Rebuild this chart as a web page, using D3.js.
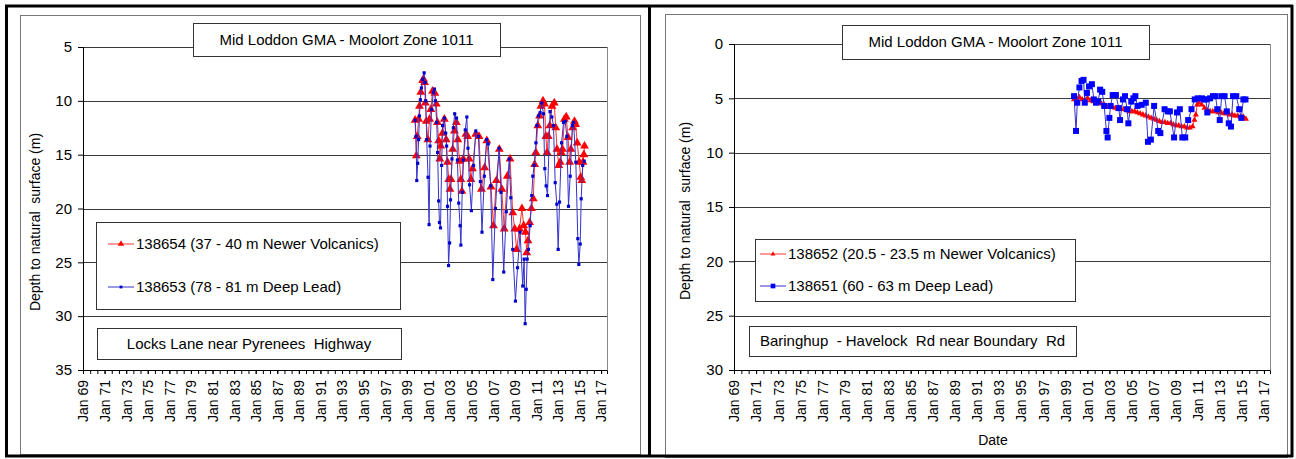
<!DOCTYPE html>
<html>
<head>
<meta charset="utf-8">
<script src="https://cdn.jsdelivr.net/npm/d3@7/dist/d3.min.js"></script>
<style>
    body { margin: 0; background: #fff; }
    svg { display: block; font-family: Arial, "Liberation Sans", sans-serif; }
    text { white-space: pre; }
</style>
</head>
<body>
<svg id="chart" width="1296" height="459"></svg>
<script>
var titleText = 'Mid Loddon GMA - Moolort Zone 1011',
    yLabel = 'Depth to natural  surface (m)',
    xLabelRight = 'Date',
    siteLeft = 'Locks Lane near Pyrenees  Highway',
    siteRight = 'Baringhup  - Havelock  Rd near Boundary  Rd',
    namesLeft = ['138654 (37 - 40 m Newer Volcanics)', '138653 (78 - 81 m Deep Lead)'],
    namesRight = ['138652 (20.5 - 23.5 m Newer Volcanics)', '138651 (60 - 63 m Deep Lead)'],
    xTickYears = [1969, 1971, 1973, 1975, 1977, 1979, 1981, 1983, 1985, 1987, 1989, 1991,
                  1993, 1995, 1997, 1999, 2001, 2003, 2005, 2007, 2009, 2011, 2013, 2015, 2017],
    yTicksLeft = [5, 10, 15, 20, 25, 30, 35],
    yTicksRight = [0, 5, 10, 15, 20, 25, 30];

// 138654 - shallow bore, left chart
var s138654 = [
    ['1999-10-10', 11.8], ['1999-11-20', 15.1], ['1999-12-20', 13.3], ['2000-02-05', 11.7],
    ['2000-03-05', 10.5], ['2000-04-20', 9.2], ['2000-06-20', 8.1], ['2000-07-20', 8.0],
    ['2000-08-25', 8.3], ['2000-09-20', 10.2], ['2000-10-20', 11.9], ['2000-12-15', 13.6],
    ['2001-02-10', 11.7], ['2001-03-25', 10.8], ['2001-05-20', 9.1], ['2001-08-10', 9.3],
    ['2001-09-25', 10.3], ['2001-11-01', 12.0], ['2001-12-15', 13.7], ['2002-01-20', 15.4],
    ['2002-02-25', 14.2], ['2002-04-25', 13.0], ['2002-06-25', 11.7], ['2002-08-25', 13.6],
    ['2002-10-10', 15.7], ['2002-11-20', 17.3], ['2003-01-01', 18.2], ['2003-02-05', 17.3],
    ['2003-04-05', 14.5], ['2003-06-01', 12.8], ['2003-08-05', 12.0], ['2003-09-25', 13.6],
    ['2003-11-20', 15.6], ['2004-01-05', 17.3], ['2004-02-10', 18.4], ['2004-03-25', 15.4],
    ['2004-06-25', 13.1], ['2004-08-20', 13.3], ['2004-10-10', 15.4], ['2004-12-10', 17.3],
    ['2005-02-01', 16.3], ['2005-05-25', 13.1], ['2005-09-10', 13.3], ['2005-12-01', 18.2],
    ['2006-03-20', 16.2], ['2006-06-01', 13.7], ['2006-10-20', 18.0], ['2007-01-10', 21.6],
    ['2007-04-20', 17.4], ['2007-07-30', 14.5], ['2007-10-20', 18.2], ['2008-01-10', 21.9],
    ['2008-04-25', 17.0], ['2008-07-25', 15.4], ['2008-10-25', 20.4], ['2009-01-01', 21.9],
    ['2009-03-05', 23.8], ['2009-06-10', 21.9], ['2009-09-01', 20.0], ['2009-11-01', 21.6],
    ['2010-01-01', 22.2], ['2010-02-10', 24.1], ['2010-03-25', 23.0], ['2010-05-20', 21.3],
    ['2010-07-20', 20.0], ['2010-09-20', 19.1], ['2010-11-05', 15.9], ['2010-12-15', 14.8],
    ['2011-02-20', 12.3], ['2011-04-20', 11.4], ['2011-06-05', 10.5], ['2011-08-15', 10.0],
    ['2011-10-05', 10.3], ['2011-11-20', 13.3], ['2011-12-30', 14.8], ['2012-02-10', 13.3],
    ['2012-04-01', 12.3], ['2012-06-15', 10.5], ['2012-08-30', 10.2], ['2012-10-20', 12.5],
    ['2012-12-01', 14.5], ['2013-02-01', 16.0], ['2013-03-20', 15.7], ['2013-04-25', 14.8],
    ['2013-06-05', 14.5], ['2013-08-10', 11.7], ['2013-10-10', 11.5], ['2013-12-10', 13.4],
    ['2014-02-01', 15.7], ['2014-03-15', 14.5], ['2014-05-15', 12.5], ['2014-07-15', 11.9],
    ['2014-08-25', 12.2], ['2014-10-15', 13.9], ['2014-12-25', 15.7], ['2015-02-10', 17.1],
    ['2015-03-20', 17.4], ['2015-04-30', 15.7], ['2015-05-30', 15.0], ['2015-06-20', 14.2]
];

// 138653 - deep bore, left chart
var s138653 = [
    ['1999-10-10', 11.8], ['1999-11-10', 13.3], ['1999-12-05', 17.4], ['2000-01-05', 15.8],
    ['2000-02-05', 13.6], ['2000-03-05', 11.4], ['2000-04-05', 9.9], ['2000-05-10', 8.8],
    ['2000-06-20', 8.0], ['2000-08-10', 7.4], ['2000-09-10', 8.3], ['2000-10-05', 10.0],
    ['2000-11-05', 13.6], ['2000-12-20', 17.1], ['2001-01-25', 21.5], ['2001-02-25', 14.2],
    ['2001-04-20', 10.8], ['2001-06-20', 9.2], ['2001-07-25', 8.9], ['2001-08-25', 10.0],
    ['2001-10-10', 12.0], ['2001-11-10', 14.8], ['2001-12-15', 19.3], ['2002-01-10', 21.3],
    ['2002-02-15', 21.8], ['2002-03-25', 16.0], ['2002-04-25', 12.3], ['2002-06-25', 11.6],
    ['2002-08-10', 13.0], ['2002-09-10', 14.2], ['2002-10-10', 19.8], ['2002-11-15', 25.3],
    ['2002-12-20', 23.2], ['2003-01-20', 19.2], ['2003-03-10', 15.4], ['2003-04-25', 12.5],
    ['2003-06-10', 11.2], ['2003-08-10', 11.6], ['2003-09-10', 15.5], ['2003-10-25', 19.5],
    ['2003-12-10', 21.6], ['2004-01-05', 23.4], ['2004-02-20', 18.5], ['2004-04-01', 15.5],
    ['2004-06-01', 12.7], ['2004-07-25', 11.5], ['2004-09-01', 14.4], ['2004-10-25', 17.8],
    ['2004-12-25', 20.2], ['2005-03-10', 16.0], ['2005-05-25', 12.8], ['2005-08-20', 13.3],
    ['2005-10-25', 17.5], ['2005-12-20', 22.2], ['2006-03-10', 17.0], ['2006-05-25', 13.6],
    ['2006-07-20', 14.0], ['2006-10-10', 17.9], ['2006-12-20', 26.6], ['2007-03-20', 20.0],
    ['2007-07-20', 14.4], ['2007-09-25', 18.5], ['2007-12-25', 25.9], ['2008-03-20', 20.3],
    ['2008-07-01', 15.4], ['2008-08-20', 19.0], ['2008-10-25', 23.8], ['2009-01-25', 28.6],
    ['2009-04-05', 25.5], ['2009-06-30', 22.2], ['2009-09-30', 27.2], ['2009-11-15', 24.7],
    ['2009-12-20', 30.7], ['2010-01-25', 27.5], ['2010-02-25', 24.7], ['2010-04-10', 23.8],
    ['2010-06-05', 21.6], ['2010-07-30', 18.8], ['2010-09-05', 17.0], ['2010-10-20', 16.0],
    ['2010-12-20', 13.9], ['2011-01-20', 12.3], ['2011-03-15', 11.4], ['2011-05-10', 11.1],
    ['2011-07-05', 10.2], ['2011-08-30', 11.2], ['2011-10-15', 16.3], ['2011-11-30', 17.9],
    ['2012-01-15', 18.8], ['2012-04-10', 11.0], ['2012-06-10', 11.5], ['2012-08-05', 12.3],
    ['2012-10-01', 17.6], ['2012-11-25', 19.6], ['2013-01-10', 23.8], ['2013-02-25', 19.4],
    ['2013-05-05', 13.9], ['2013-07-10', 12.0], ['2013-09-05', 11.9], ['2013-10-30', 13.3],
    ['2013-12-25', 19.8], ['2014-02-20', 17.0], ['2014-05-05', 12.3], ['2014-06-15', 12.0],
    ['2014-08-30', 15.7], ['2014-11-05', 22.8], ['2014-12-10', 25.2], ['2015-01-25', 23.3],
    ['2015-02-28', 19.1], ['2015-04-20', 16.0], ['2015-06-10', 15.6]
];

// 138652 - shallow bore, right chart
var s138652 = [
    ['1999-10-20', 5.1], ['2000-01-15', 5.0], ['2000-04-15', 4.9], ['2000-07-15', 5.1],
    ['2000-10-15', 5.2], ['2001-01-15', 5.0], ['2001-04-15', 5.2], ['2001-07-15', 5.3],
    ['2001-10-15', 5.4], ['2002-01-15', 5.4], ['2002-04-15', 5.5], ['2002-07-15', 5.6],
    ['2002-10-15', 5.8], ['2003-01-15', 5.8], ['2003-04-15', 5.8], ['2003-07-15', 5.9],
    ['2003-10-15', 6.0], ['2004-01-15', 6.0], ['2004-04-15', 6.0], ['2004-07-15', 6.1],
    ['2004-10-15', 6.2], ['2005-01-15', 6.2], ['2005-04-15', 6.2], ['2005-07-15', 6.3],
    ['2005-10-15', 6.4], ['2006-01-15', 6.5], ['2006-04-15', 6.6], ['2006-07-15', 6.7],
    ['2006-10-15', 6.8], ['2007-01-15', 6.9], ['2007-04-15', 7.0], ['2007-07-15', 7.1],
    ['2007-10-15', 7.2], ['2008-01-15', 7.2], ['2008-04-15', 7.3], ['2008-07-15', 7.3],
    ['2008-10-15', 7.4], ['2009-01-15', 7.5], ['2009-04-15', 7.5], ['2009-07-15', 7.6],
    ['2009-10-15', 7.6], ['2010-01-15', 7.7], ['2010-04-15', 7.7], ['2010-07-15', 7.6],
    ['2010-09-15', 7.0], ['2010-11-01', 6.5], ['2010-12-15', 5.6], ['2011-02-15', 5.4],
    ['2011-05-15', 5.6], ['2011-08-15', 5.9], ['2011-11-15', 6.1], ['2012-02-15', 6.2],
    ['2012-05-15', 6.2], ['2012-08-15', 6.2], ['2012-11-15', 6.3], ['2013-02-15', 6.3],
    ['2013-05-15', 6.4], ['2013-08-15', 6.4], ['2013-11-15', 6.5], ['2014-02-15', 6.5],
    ['2014-05-15', 6.6], ['2014-08-15', 6.6], ['2014-11-15', 6.7], ['2015-02-15', 6.7],
    ['2015-05-15', 6.9]
];

// 138651 - deep bore, right chart
var s138651 = [
    ['1999-10-20', 4.8], ['1999-12-25', 8.0], ['2000-02-05', 5.4], ['2000-04-15', 4.0],
    ['2000-06-25', 3.4], ['2000-08-30', 3.3], ['2000-10-10', 5.4], ['2000-12-20', 4.5],
    ['2001-02-25', 3.9], ['2001-06-01', 3.7], ['2001-08-05', 5.1], ['2001-10-15', 5.4],
    ['2001-12-25', 5.3], ['2002-03-01', 4.2], ['2002-05-10', 4.4], ['2002-07-15', 5.7],
    ['2002-09-25', 8.0], ['2002-11-05', 8.6], ['2003-01-01', 6.8], ['2003-02-10', 5.7],
    ['2003-04-20', 4.7], ['2003-08-05', 4.7], ['2003-11-10', 5.9], ['2003-12-20', 7.0],
    ['2004-03-25', 5.1], ['2004-06-01', 4.8], ['2004-08-10', 6.0], ['2004-09-20', 7.3],
    ['2004-12-25', 5.3], ['2005-03-05', 5.0], ['2005-05-10', 4.8], ['2005-07-20', 5.7],
    ['2005-12-05', 5.6], ['2006-04-20', 5.4], ['2006-06-30', 9.0], ['2006-10-05', 8.8],
    ['2007-01-20', 5.7], ['2007-06-05', 8.0], ['2007-08-15', 8.2], ['2008-01-01', 6.0],
    ['2008-04-20', 6.2], ['2008-06-25', 6.2], ['2008-11-10', 8.6], ['2009-02-15', 6.3],
    ['2009-05-20', 6.0], ['2009-08-10', 8.6], ['2009-11-15', 8.6], ['2010-02-20', 7.0],
    ['2010-06-10', 6.0], ['2010-09-25', 5.1], ['2011-01-01', 5.0], ['2011-05-20', 5.0],
    ['2011-07-25', 5.1], ['2011-10-01', 5.1], ['2011-11-15', 6.3], ['2012-02-15', 5.0],
    ['2012-05-20', 4.8], ['2012-08-15', 4.8], ['2012-10-10', 6.0], ['2012-12-30', 7.0],
    ['2013-03-05', 4.8], ['2013-06-10', 4.8], ['2013-08-20', 6.2], ['2013-10-25', 7.3],
    ['2014-01-05', 7.6], ['2014-03-15', 4.8], ['2014-07-01', 4.8], ['2014-10-05', 6.0],
    ['2014-12-15', 6.8], ['2015-02-20', 5.1], ['2015-05-01', 5.1]
];

var parseDate = d3.timeParse('%Y-%m-%d'),
    svg = d3.select('#chart'),
    xStart = new Date(1969, 0, 1),
    xEnd = new Date(2017, 6, 20);

function rows(list) {
    return list.map(function (d) { return { date: parseDate(d[0]), value: d[1] }; });
}

function box(g, x, y, w, h, label) {
    g.append('rect')
        .attr('x', x + 0.5).attr('y', y + 0.5)
        .attr('width', w).attr('height', h)
        .attr('fill', '#fff').attr('stroke', '#333');
    if (label) {
        g.append('text')
            .attr('x', x + w / 2).attr('y', y + h / 2)
            .attr('dy', '0.35em')
            .attr('text-anchor', 'middle')
            .attr('font-size', 15)
            .text(label);
    }
}

function drawMarker(sel, shape, size, color) {
    var sym = shape === 'tri' ? d3.symbolTriangle : d3.symbolSquare;
    sel.attr('d', d3.symbol().type(sym).size(size))
        .attr('fill', color)
        .attr('stroke', 'none');
}

function drawChart(c) {
    var g = svg.append('g'),
        x = d3.scaleTime().domain([xStart, xEnd]).range([c.left, c.right]),
        y = d3.scaleLinear().domain(c.yDomain).range([c.top, c.bottom]);

    // chart frame
    g.append('rect')
        .attr('x', c.frame[0] + 0.5).attr('y', c.frame[1] + 0.5)
        .attr('width', c.frame[2]).attr('height', c.frame[3])
        .attr('fill', '#fff').attr('stroke', '#777');

    // gridlines + plot border
    g.append('g').selectAll('line')
        .data(c.yTicks.slice(0, -1))
        .join('line')
        .attr('x1', c.left).attr('x2', c.right)
        .attr('y1', function (d) { return Math.round(y(d)) + 0.5; })
        .attr('y2', function (d) { return Math.round(y(d)) + 0.5; })
        .attr('stroke', '#3a3a3a');
    g.append('line')
        .attr('x1', c.right + 0.5).attr('x2', c.right + 0.5)
        .attr('y1', c.top).attr('y2', c.bottom)
        .attr('stroke', '#888');

    // axes
    var yAxis = g.append('g')
        .attr('transform', 'translate(' + c.left + ',0)')
        .call(d3.axisLeft(y).tickValues(c.yTicks).tickSize(5).tickPadding(6));
    yAxis.selectAll('text').attr('font-size', 15).attr('fill', '#000');

    // minor ticks every 8 months from Jan 69
    g.append('g')
        .attr('transform', 'translate(0,' + c.bottom + ')')
        .call(d3.axisBottom(x).tickValues(d3.timeMonth.range(xStart, xEnd, 8)).tickSize(4).tickFormat(''))
        .call(function (a) { a.select('.domain').remove(); });

    var xAxis = g.append('g')
        .attr('transform', 'translate(0,' + c.bottom + ')')
        .call(d3.axisBottom(x)
            .tickValues(xTickYears.map(function (yr) { return new Date(yr, 0, 1); }))
            .tickSize(4)
            .tickFormat(d3.timeFormat('Jan %y')));
    xAxis.selectAll('text')
        .attr('font-size', 14)
        .attr('fill', '#000')
        .attr('transform', 'rotate(-90)')
        .attr('text-anchor', 'end')
        .attr('x', -10).attr('y', 0)
        .attr('dy', '0.35em');
    g.selectAll('.domain, .tick line').attr('stroke', '#000');

    // series
    var line = d3.line()
        .x(function (d) { return x(d.date); })
        .y(function (d) { return y(d.value); });

    c.series.forEach(function (s) {
        var data = rows(s.data);
        g.append('path')
            .datum(data)
            .attr('d', line)
            .attr('fill', 'none')
            .attr('stroke', s.line)
            .attr('stroke-width', 1);
        g.append('g').selectAll('path')
            .data(data)
            .join('path')
            .attr('transform', function (d) {
                return 'translate(' + x(d.date) + ',' + y(d.value) + ')';
            })
            .call(drawMarker, s.shape, s.size, s.color);
    });

    // boxes
    box(g, c.titleBox[0], c.titleBox[1], c.titleBox[2], c.titleBox[3], titleText);
    box(g, c.siteBox[0], c.siteBox[1], c.siteBox[2], c.siteBox[3], c.site);

    var lb = c.legendBox;
    box(g, lb[0], lb[1], lb[2], lb[3]);
    c.series.forEach(function (s, i) {
        var ly = c.legendRows[i];
        g.append('line')
            .attr('x1', c.legendX).attr('x2', c.legendX + 26)
            .attr('y1', ly).attr('y2', ly)
            .attr('stroke', s.line);
        g.append('path')
            .attr('transform', 'translate(' + (c.legendX + 13) + ',' + ly + ')')
            .call(drawMarker, s.shape, s.legendSize, s.color);
        g.append('text')
            .attr('x', c.legendX + 28).attr('y', ly)
            .attr('dy', '0.35em')
            .attr('font-size', 15)
            .text(s.name);
    });

    g.append('text')
        .attr('transform', 'translate(' + c.yLabelPos[0] + ',' + c.yLabelPos[1] + ') rotate(-90)')
        .attr('text-anchor', 'middle')
        .attr('dy', '0.35em')
        .attr('font-size', 14)
        .text(yLabel);

    if (c.xLabel) {
        g.append('text')
            .attr('x', c.xLabelPos[0]).attr('y', c.xLabelPos[1])
            .attr('text-anchor', 'middle')
            .attr('dy', '0.35em')
            .attr('font-size', 14)
            .text(c.xLabel);
    }
}

drawChart({
    frame: [20, 15, 620, 439],
    left: 83, right: 607, top: 47, bottom: 370,
    yDomain: [5, 35], yTicks: yTicksLeft,
    titleBox: [193, 23, 307, 33],
    siteBox: [97, 328, 304, 31],
    site: siteLeft,
    legendBox: [96, 222, 304, 87],
    legendX: 108, legendRows: [244, 287],
    yLabelPos: [35, 222],
    series: [
        { name: namesLeft[0], data: s138654, line: '#ff3333', color: '#ff0000', shape: 'tri', size: 34, legendSize: 18 },
        { name: namesLeft[1], data: s138653, line: '#3333cc', color: '#0000cc', shape: 'sq', size: 10, legendSize: 8 }
    ]
});

drawChart({
    frame: [665, 14, 622, 443],
    left: 734, right: 1270, top: 44, bottom: 370,
    yDomain: [0, 30], yTicks: yTicksRight,
    titleBox: [842, 25, 307, 34],
    siteBox: [749, 326, 327, 30],
    site: siteRight,
    legendBox: [755, 239, 320, 62],
    legendX: 760, legendRows: [254, 286],
    yLabelPos: [685, 211],
    xLabel: xLabelRight, xLabelPos: [993, 440],
    series: [
        { name: namesRight[0], data: s138652, line: '#ff3333', color: '#ff0000', shape: 'tri', size: 16, legendSize: 10 },
        { name: namesRight[1], data: s138651, line: '#3333cc', color: '#0000ff', shape: 'sq', size: 36, legendSize: 22 }
    ]
});

// outer table frame
svg.append('g')
    .selectAll('line')
    .data([[5, 6, 1293, 6], [5, 456, 1293, 456], [6.5, 5, 6.5, 457], [649.5, 5, 649.5, 457], [1292, 5, 1292, 457]])
    .join('line')
    .attr('x1', function (d) { return d[0]; }).attr('y1', function (d) { return d[1]; })
    .attr('x2', function (d) { return d[2]; }).attr('y2', function (d) { return d[3]; })
    .attr('stroke', '#000')
    .attr('stroke-width', 3);
</script>
</body>
</html>
